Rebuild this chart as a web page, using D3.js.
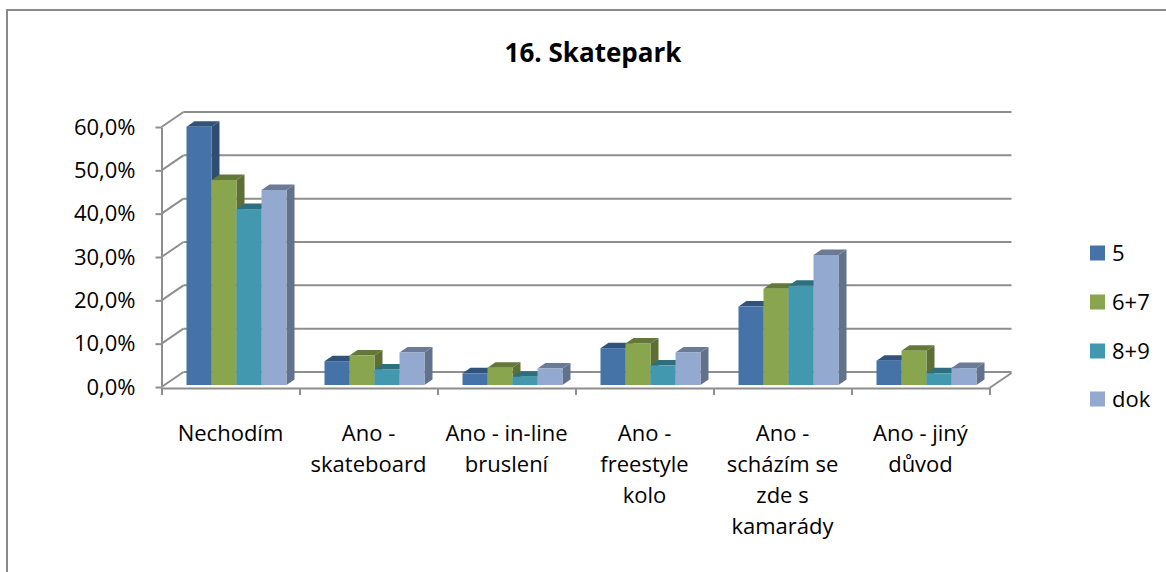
<!DOCTYPE html>
<html>
<head>
<meta charset="utf-8">
<script src="https://cdn.jsdelivr.net/npm/d3@7"></script>
<style>
  body { margin: 0; background: #fff; }
  text { font-family: 'Open Sans', sans-serif; fill: #000; }
</style>
</head>
<body>
<div id="chart"></div>
<script>
// Datos
const categories = ['Nechodím', 'Ano - skateboard', 'Ano - in-line bruslení', 'Ano - freestyle kolo', 'Ano - scházím se zde s kamarády', 'Ano - jiný důvod'];
const categoryLines = [
  ['Nechodím'],
  ['Ano -', 'skateboard'],
  ['Ano - in-line', 'bruslení'],
  ['Ano -', 'freestyle', 'kolo'],
  ['Ano -', 'scházím se', 'zde s', 'kamarády'],
  ['Ano - jiný', 'důvod']
];
const series = ['5', '6+7', '8+9', 'dok'];
const values5   = [0.596, 0.055, 0.027, 0.085, 0.181, 0.056];
const values67  = [0.473, 0.068, 0.040, 0.096, 0.222, 0.079];
const values89  = [0.406, 0.036, 0.019, 0.045, 0.229, 0.027];
const valuesDok = [0.450, 0.075, 0.038, 0.075, 0.300, 0.039];
const yTicks = [0, 0.1, 0.2, 0.3, 0.4, 0.5, 0.6];
const colors = ['#4572A7', '#89A54E', '#4198AF', '#93A9CF'];

const width = 1166;
const height = 572;

// Geometria 3D
const axisLeftX = 161.5;
const axisRightX = 989.5;
const floorY = 388;
const depthX = 22;
const depthY = -15;
const barDepthX = 8;
const barDepthY = -5.5;
const barBaseShift = -2;
const clusterOffset = 25;
const clusterWidth = 100;

const svg = d3.select('#chart')
  .append('svg')
  .attr('width', width)
  .attr('height', height);

// Marco exterior
svg.append('rect')
  .attr('x', 7)
  .attr('y', 10)
  .attr('width', width + 20)
  .attr('height', height + 20)
  .attr('fill', 'none')
  .attr('stroke', '#8a8a8a')
  .attr('stroke-width', 2);

// Titulo
svg.append('text')
  .attr('x', 593)
  .attr('y', 62)
  .attr('text-anchor', 'middle')
  .style('font-size', '26px')
  .style('font-weight', 'bold')
  .text('16. Skatepark');

// Escalas
const yScale = d3.scaleLinear()
  .domain([0, 0.6])
  .range([387, 127]);

const xEdge = d3.scaleLinear()
  .domain([0, categories.length])
  .range([axisLeftX, axisRightX]);

const xScale = d3.scaleBand()
  .domain(categories)
  .range([axisLeftX, axisRightX])
  .paddingInner(0);

const xSeries = d3.scaleBand()
  .domain(series)
  .range([0, clusterWidth]);

const lineColor = '#8e8e8e';

// Lineas de la pared del fondo
const grid = svg.append('g').attr('class', 'grid');
grid.selectAll('.gridline')
  .data(yTicks)
  .enter()
  .append('line')
  .attr('x1', axisLeftX + depthX)
  .attr('x2', axisRightX + depthX)
  .attr('y1', d => yScale(d) + depthY)
  .attr('y2', d => yScale(d) + depthY)
  .attr('stroke', lineColor)
  .attr('stroke-width', 2);

// Diagonales de la pared izquierda
grid.selectAll('.diag')
  .data(yTicks)
  .enter()
  .append('line')
  .attr('x1', axisLeftX)
  .attr('x2', axisLeftX + depthX)
  .attr('y1', d => yScale(d))
  .attr('y2', d => yScale(d) + depthY)
  .attr('stroke', lineColor)
  .attr('stroke-width', 2);

// Diagonal derecha del suelo
grid.append('line')
  .attr('x1', axisRightX)
  .attr('x2', axisRightX + depthX)
  .attr('y1', floorY)
  .attr('y2', floorY + depthY)
  .attr('stroke', lineColor)
  .attr('stroke-width', 2);

// Eje Y
const yAxis = svg.append('g')
  .attr('transform', `translate(${axisLeftX},0)`)
  .call(d3.axisLeft(yScale)
    .tickValues(yTicks)
    .tickSize(6)
    .tickSizeOuter(0)
    .tickPadding(20)
    .tickFormat(d => (d * 100).toFixed(1).replace('.', ',') + '%'));

yAxis.selectAll('path, line')
  .attr('stroke', lineColor)
  .attr('stroke-width', 2);
yAxis.selectAll('text')
  .style('font-size', '22px')
  .style('font-family', "'Open Sans', sans-serif")
  .attr('fill', '#000');

// Eje X
const xAxis = svg.append('g')
  .attr('transform', `translate(0,${floorY})`)
  .call(d3.axisBottom(xEdge)
    .tickValues(d3.range(categories.length + 1))
    .tickSize(7)
    .tickSizeOuter(0)
    .tickFormat(''));

xAxis.selectAll('path, line')
  .attr('stroke', lineColor)
  .attr('stroke-width', 2);

// Etiquetas de categorias
const labels = svg.append('g').attr('class', 'xlabels');
categories.forEach((c, i) => {
  const t = labels.append('text')
    .attr('text-anchor', 'middle')
    .style('font-size', '22px');
  categoryLines[i].forEach((line, j) => {
    t.append('tspan')
      .attr('x', xScale(c) + xScale.bandwidth() / 2)
      .attr('y', 441 + j * 31)
      .text(line);
  });
});

// Barras 3D
const allValues = [values5, values67, values89, valuesDok];
const barData = [];
categories.forEach((c, i) => {
  series.forEach((s, k) => {
    barData.push({ cat: c, serie: s, k: k, value: allValues[k][i] });
  });
});

const base = yScale(0) + barBaseShift;
const bw = xSeries.bandwidth();

const bars = svg.append('g').attr('class', 'bars')
  .selectAll('.bar3d')
  .data(barData)
  .enter()
  .append('g')
  .attr('class', 'bar3d');

bars.append('path')
  .attr('fill', d => d3.color(colors[d.k]).darker(1.1))
  .attr('d', d => {
    const x = xScale(d.cat) + clusterOffset + xSeries(d.serie) + bw;
    const y = yScale(d.value) + barBaseShift;
    return `M${x},${y}L${x + barDepthX},${y + barDepthY}L${x + barDepthX},${base + barDepthY}L${x},${base}Z`;
  });

bars.append('path')
  .attr('fill', d => d3.color(colors[d.k]).darker(0.9))
  .attr('d', d => {
    const x = xScale(d.cat) + clusterOffset + xSeries(d.serie);
    const y = yScale(d.value) + barBaseShift;
    return `M${x},${y}L${x + barDepthX},${y + barDepthY}L${x + bw + barDepthX},${y + barDepthY}L${x + bw},${y}Z`;
  });

bars.append('rect')
  .attr('x', d => xScale(d.cat) + clusterOffset + xSeries(d.serie))
  .attr('y', d => yScale(d.value) + barBaseShift)
  .attr('width', bw)
  .attr('height', d => base - (yScale(d.value) + barBaseShift))
  .attr('fill', d => colors[d.k]);

// Leyenda
const legendY = [253, 302, 351, 399];
const legend = svg.append('g').attr('class', 'legend');
series.forEach((s, k) => {
  legend.append('rect')
    .attr('x', 1090)
    .attr('y', legendY[k] - 7.5)
    .attr('width', 15)
    .attr('height', 15)
    .attr('fill', colors[k]);
  legend.append('text')
    .attr('x', 1112)
    .attr('y', legendY[k])
    .attr('dy', '0.36em')
    .style('font-size', '22px')
    .text(s);
});
</script>
</body>
</html>
